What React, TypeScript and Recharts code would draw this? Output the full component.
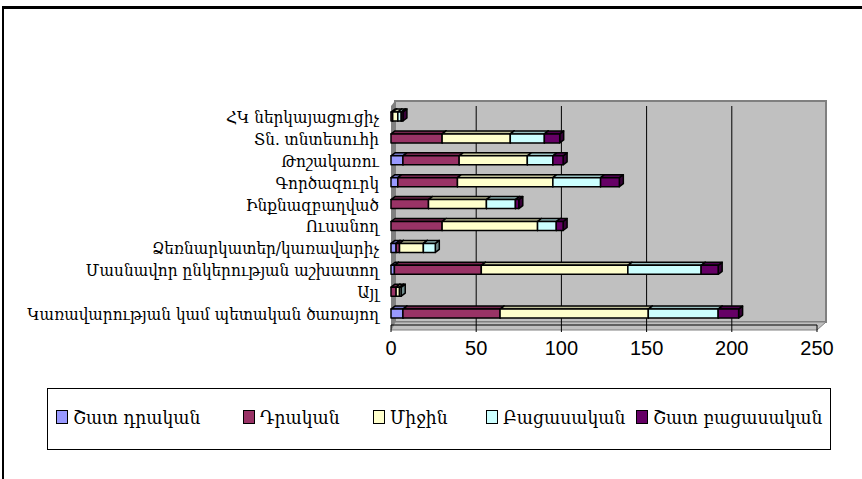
import { BarChart, Bar, XAxis, YAxis, CartesianGrid } from 'recharts';

const categories = [
  'ՀԿ ներկայացուցիչ',
  'Տն. տնտեսուհի',
  'Թոշակառու',
  'Գործազուրկ',
  'Ինքնազբաղված',
  'Ուսանող',
  'Ձեռնարկատեր/կառավարիչ',
  'Մասնավոր ընկերության աշխատող',
  'Այլ',
  'Կառավարության կամ պետական ծառայող',
];

const seriesNames = ['Շատ դրական', 'Դրական', 'Միջին', 'Բացասական', 'Շատ բացասական'];
const veryPositive = [0, 0, 7, 4, 0, 0, 3, 2, 0, 7];
const positive = [1, 30, 33, 35, 22, 30, 2, 51, 3, 57];
const neutral = [3, 40, 40, 56, 34, 56, 14, 86, 2, 87];
const negative = [2, 20, 15, 28, 17, 11, 7, 43, 1, 41];
const veryNegative = [1, 9, 6, 11, 2, 4, 0, 10, 0, 12];
const xTicks = [0, 50, 100, 150, 200, 250];

const colors = ['#9999FF', '#993366', '#FFFFCC', '#CCFFFF', '#660066'];
const legendLeft = [8, 195, 325, 438, 588];

const values = [veryPositive, positive, neutral, negative, veryNegative];
const data = categories.map((name, i) => {
  const row: Record<string, string | number> = { name };
  seriesNames.forEach((s, k) => {
    row[s] = values[k][i];
  });
  return row;
});

const shade = (hex: string, f: number) => {
  const n = parseInt(hex.slice(1), 16);
  const r = Math.round(((n >> 16) & 255) * f);
  const g = Math.round(((n >> 8) & 255) * f);
  const b = Math.round((n & 255) * f);
  return `rgb(${r},${g},${b})`;
};

// 3D-ish box: front face, top face, right face
const Box = (props: any) => {
  const { x, y, width, height, fill } = props;
  if (!width || width <= 0) return null;
  const dx = 4;
  const dy = 3;
  return (
    <g stroke="#000" strokeWidth={1.5} strokeLinejoin="round">
      <polygon
        points={`${x + width},${y} ${x + width + dx},${y - dy} ${x + width + dx},${y + height - dy} ${x + width},${y + height}`}
        fill={shade(fill, 0.55)}
      />
      <polygon
        points={`${x},${y} ${x + dx},${y - dy} ${x + width + dx},${y - dy} ${x + width},${y}`}
        fill={shade(fill, 0.75)}
      />
      <rect x={x} y={y} width={width} height={height} fill={fill} />
    </g>
  );
};

const W = 862;
const H = 479;
const plotLeft = 391;
const plotRight = 817;
const plotTop = 106;
const plotBottom = 325;
const serif = 'DejaVu Serif Condensed, DejaVu Serif, serif';

export default function App() {
  return (
    <div style={{ position: 'absolute', left: 0, top: 0, width: W, height: H, overflow: 'hidden', background: '#fff' }}>
      <div
        style={{
          position: 'absolute',
          left: 2,
          top: 6,
          width: W + 20,
          height: H + 20,
          borderLeft: '2px solid #000',
          borderTop: '3px solid #000',
        }}
      />
      <svg width={W} height={H} style={{ position: 'absolute', left: 0, top: 0 }}>
        {/* back wall */}
        <rect x={plotLeft + 4} y={plotTop - 5} width={plotRight - plotLeft + 5} height={plotBottom - plotTop + 2} fill="#C0C0C0" stroke="#808080" strokeWidth={2} />
        {/* left wall */}
        <polygon
          points={`${plotLeft},${plotTop} ${plotLeft + 4},${plotTop - 5} ${plotLeft + 4},${plotBottom - 3} ${plotLeft},${plotBottom + 5}`}
          fill="#808080"
        />
        {/* floor */}
        <polygon
          points={`${plotLeft},${plotBottom + 5} ${plotLeft + 4},${plotBottom - 3} ${plotRight + 9},${plotBottom - 3} ${plotRight},${plotBottom + 5}`}
          fill="#C0C0C0"
          stroke="#808080"
          strokeWidth={1}
        />
      </svg>
      <div style={{ position: 'absolute', left: 0, top: 0 }}>
        <BarChart
          width={W}
          height={H}
          data={data}
          layout="vertical"
          barSize={9}
          margin={{ top: plotTop, right: W - plotRight, bottom: H - plotBottom - 30, left: 0 }}
        >
          <CartesianGrid horizontal={false} vertical stroke="#000" strokeWidth={1} verticalValues={[50, 100, 150, 200]} />
          <XAxis
            type="number"
            domain={[0, 250]}
            ticks={xTicks}
            height={30}
            tickSize={7}
            tickMargin={9}
            axisLine={{ stroke: '#000' }}
            tickLine={{ stroke: '#000' }}
            tick={{ fill: '#000', fontSize: 20, fontFamily: 'Liberation Sans, Arial, sans-serif' }}
          />
          <YAxis
            type="category"
            dataKey="name"
            width={plotLeft}
            axisLine={false}
            tickLine={false}
            tickMargin={6}
            interval={0}
            tick={{ fill: '#000', fontSize: 17, fontFamily: serif }}
          />
          {seriesNames.map((s, k) => (
            <Bar key={s} dataKey={s} stackId="a" fill={colors[k]} shape={Box} isAnimationActive={false} />
          ))}
        </BarChart>
      </div>
      <div
        style={{
          position: 'absolute',
          left: 47,
          top: 388,
          width: 784,
          height: 62,
          border: '1px solid #000',
          boxSizing: 'border-box',
          fontFamily: serif,
          fontSize: 19,
        }}
      >
        {seriesNames.map((s, k) => (
          <div key={s} style={{ position: 'absolute', left: legendLeft[k], top: 17, display: 'flex', alignItems: 'center', whiteSpace: 'nowrap' }}>
            <span style={{ width: 10, height: 12, background: colors[k], border: '1px solid #000', marginRight: 5, display: 'inline-block' }} />
            <span>{s}</span>
          </div>
        ))}
      </div>
    </div>
  );
}
